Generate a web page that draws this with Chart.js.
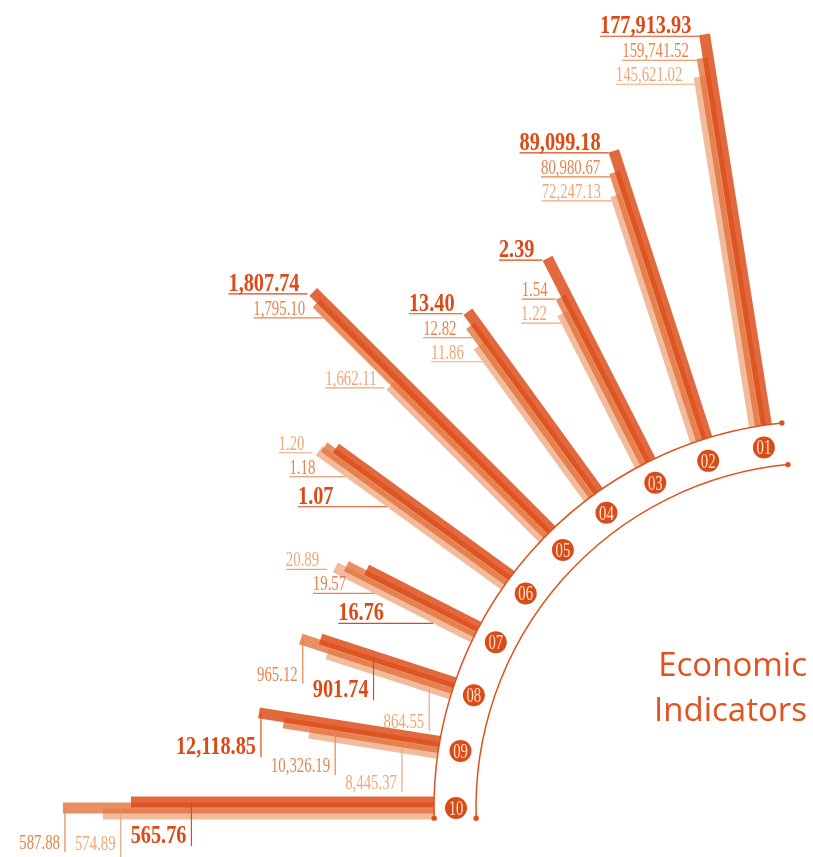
<!DOCTYPE html>
<html>
<head>
<meta charset="utf-8">
<script src="https://cdn.jsdelivr.net/npm/chart.js@4.4.0/dist/chart.umd.min.js"></script>
<style>
  html, body { margin: 0; padding: 0; background: #fff; }
  .wrap { position: relative; width: 813px; height: 857px; overflow: hidden; }
  #chart { position: absolute; left: 0; top: 0; }
  .title {
    position: absolute; right: 6px; top: 641px;
    text-align: right; font-family: "Open Sans", "Noto Sans", sans-serif;
    font-size: 33px; line-height: 45px; color: #e2521f;
  }
</style>
</head>
<body>
<div class="wrap">
  <canvas id="chart" width="813" height="857"></canvas>
  <div class="title">Economic<br>Indicators</div>
</div>
<script>
const categories  = ["01", "02", "03", "04", "05", "06", "07", "08", "09", "10"];
const darkValues  = [177913.93, 89099.18, 2.39, 13.40, 1807.74, 1.07, 16.76, 901.74, 12118.85, 565.76];
const midValues   = [159741.52, 80980.67, 1.54, 12.82, 1795.10, 1.18, 19.57, 965.12, 10326.19, 587.88];
const lightValues = [145621.02, 72247.13, 1.22, 11.86, 1662.11, 1.20, 20.89, 864.55, 8445.37, 574.89];

// every spoke has its own value axis: min sits on the base arc, max at the full spoke reach
const spokeMin = [-132000, -29300, -2.35, 3.345, 1402.14, -1.281, -1.184, 428.75, -564.9, 467.2];
const spokeMax = [181500, 127500, 6.0, 21.46, 1883.5, 3.052, 55.78, 1769.6, 27159, 597.3];

const W = 813, H = 857;
const CX = 821, CY = 808;          // arc centre, page pixels
const R_BASE = 387, R_INNER = 345, R_BADGE = 365, SPOKE = 400;
const ANGLE_START = 99, ANGLE_STEP = 9;
const BAR_W = 11, BAR_SHIFT = 6;
const SIDE_LABELS = 7;             // spokes 01-07 get side labels, the rest hang below
const DEG = Math.PI / 180;
const ARC_COLOR = "#e0501e";

const series = [
  { key: "dark",  values: darkValues,  color: "rgba(220,72,20,0.82)",  text: "#dc4a16", shift: BAR_SHIFT,  font: "bold 26px 'Liberation Serif'", sx: 0.78, bold: true, order: 0 },
  { key: "mid",   values: midValues,   color: "rgba(226,112,58,0.78)", text: "#e6844f", shift: 0,          font: "20px 'Liberation Serif'", sx: 0.74, bold: false, order: 1 },
  { key: "light", values: lightValues, color: "rgba(236,152,104,0.66)", text: "#efa77c", shift: -BAR_SHIFT, font: "20px 'Liberation Serif'", sx: 0.74, bold: false, order: 2 }
];

function fmt(v) {
  return v.toLocaleString("en-US", { minimumFractionDigits: 2, maximumFractionDigits: 2 });
}

function spokeDir(i) {
  const a = (ANGLE_START + i * ANGLE_STEP) * DEG;
  return { ux: Math.cos(a), uy: Math.sin(a), px: Math.sin(a), py: -Math.cos(a) };
}

function barLength(i, v) {
  return (v - spokeMin[i]) / (spokeMax[i] - spokeMin[i]) * SPOKE;
}

const bars = [];
const datasets = [];

categories.forEach((cat, i) => {
  const d = spokeDir(i);
  bars[i] = {};
  series.forEach(ser => {
    const len = barLength(i, ser.values[i]);
    const r1 = R_BASE + len;
    const start = { x: R_BASE * d.ux + ser.shift * d.px, y: R_BASE * d.uy + ser.shift * d.py };
    const end = { x: r1 * d.ux + ser.shift * d.px, y: r1 * d.uy + ser.shift * d.py };
    bars[i][ser.key] = { start, end, len };
    datasets.push({
      label: ser.key + " " + cat,
      data: [start, end],
      showLine: true,
      borderColor: ser.color,
      borderWidth: BAR_W,
      borderCapStyle: "butt",
      pointRadius: 0,
      fill: false,
      order: ser.order
    });
  });
});

datasets.push({
  label: "badges",
  data: categories.map((c, i) => {
    const d = spokeDir(i);
    return { x: R_BADGE * d.ux, y: R_BADGE * d.uy };
  }),
  pointRadius: 11,
  pointBackgroundColor: "#db4b17",
  pointBorderWidth: 0,
  order: -1
});

function drawText(ctx, str, x, y, font, sx, color, align) {
  ctx.save();
  ctx.translate(x, y);
  ctx.scale(sx, 1);
  ctx.font = font;
  ctx.fillStyle = color;
  ctx.textAlign = align;
  ctx.textBaseline = "alphabetic";
  ctx.fillText(str, 0, 0);
  ctx.restore();
}

function textWidth(ctx, str, font, sx) {
  ctx.save();
  ctx.font = font;
  const w = ctx.measureText(str).width * sx;
  ctx.restore();
  return w;
}

// left edge of a spoke's bar bundle along a horizontal line (pixels)
function bundleEdge(items, yLine) {
  let edge = Infinity;
  items.forEach(it => {
    const lo = Math.min(it.ey, it.sy), hi = Math.max(it.ey, it.sy);
    if (yLine < lo - 3 || yLine > hi) return;
    const dx = it.sx - it.ex, dy = it.sy - it.ey;
    const t = Math.max(0, (yLine - it.ey) / dy);
    const xc = it.ex + t * dx;
    const half = (BAR_W / 2) * Math.hypot(dx, dy) / Math.abs(dy);
    edge = Math.min(edge, xc - half);
  });
  return edge;
}

const decorPlugin = {
  id: "decor",
  afterDatasetsDraw(chart) {
    const { ctx, scales: { x, y } } = chart;
    const px = v => x.getPixelForValue(v);
    const py = v => y.getPixelForValue(v);
    const ox = px(0), oy = py(0), unit = px(1) - px(0);

    ctx.save();
    // the two guide arcs with end dots
    ctx.strokeStyle = ARC_COLOR;
    ctx.fillStyle = ARC_COLOR;
    ctx.lineWidth = 1.5;
    [[R_BASE, 95.8, 181.5], [R_INNER, 95.5, 181.7]].forEach(([r, a0, a1]) => {
      ctx.beginPath();
      ctx.arc(ox, oy, r * unit, -a1 * DEG, -a0 * DEG);
      ctx.stroke();
      [a0, a1].forEach(a => {
        ctx.beginPath();
        ctx.arc(ox + r * unit * Math.cos(a * DEG), oy - r * unit * Math.sin(a * DEG), 2.7, 0, Math.PI * 2);
        ctx.fill();
      });
    });

    // badge numbers
    categories.forEach((cat, i) => {
      const d = spokeDir(i);
      drawText(ctx, cat, px(R_BADGE * d.ux), py(R_BADGE * d.uy) + 7, "21px 'Liberation Serif'", 0.7, "#fbe3d2", "center");
    });

    // value labels
    categories.forEach((cat, i) => {
      const items = series.map(ser => {
        const b = bars[i][ser.key];
        return {
          ser, text: fmt(ser.values[i]), len: b.len,
          sx: px(b.start.x), sy: py(b.start.y),
          ex: px(b.end.x), ey: py(b.end.y)
        };
      });
      ctx.lineWidth = 1.2;

      if (i < SIDE_LABELS) {
        // longest bar gets the top label, the others step down
        items.sort((a, b) => b.len - a.len);
        let prev = -Infinity;
        items.forEach(it => {
          const lineY = Math.max(it.ey + 2, prev + (it.ser.bold ? 30 : 24));
          prev = lineY;
          let edge = bundleEdge(items, lineY);
          if (!isFinite(edge)) edge = it.ex;
          const w = textWidth(ctx, it.text, it.ser.font, it.ser.sx);
          const drop = Math.max(0, lineY - it.ey - 2);
          const right = edge - 8 - drop * 0.8;
          drawText(ctx, it.text, right, lineY - 3, it.ser.font, it.ser.sx, it.ser.text, "right");
          ctx.strokeStyle = it.ser.text;
          ctx.beginPath();
          ctx.moveTo(right - w, lineY);
          ctx.lineTo(edge, lineY);
          ctx.stroke();
        });
      } else {
        items.sort((a, b) => a.ex - b.ex);
        let prev = -Infinity;
        items.forEach(it => {
          const w = textWidth(ctx, it.text, it.ser.font, it.ser.sx);
          const lx = Math.max(it.ex + 2, prev + 10 + w + 5);
          prev = lx;
          const t = (lx - it.ex) / (it.sx - it.ex);
          const ly = it.ey + t * (it.sy - it.ey);
          const bottom = Math.min(ly + 44, H);
          ctx.strokeStyle = it.ser.text;
          ctx.beginPath();
          ctx.moveTo(lx, ly);
          ctx.lineTo(lx, bottom);
          ctx.stroke();
          drawText(ctx, it.text, lx - 5, Math.min(bottom - 3, H - 7), it.ser.font, it.ser.sx, it.ser.text, "right");
        });
      }
    });
    ctx.restore();
  }
};

new Chart(document.getElementById("chart"), {
  type: "scatter",
  data: { datasets },
  options: {
    responsive: false,
    animation: false,
    devicePixelRatio: 1,
    events: [],
    layout: { padding: 0, autoPadding: false },
    plugins: { legend: { display: false }, tooltip: { enabled: false } },
    scales: {
      x: { type: "linear", min: -CX, max: W - CX, display: false },
      y: { type: "linear", min: CY - H, max: CY, display: false }
    }
  },
  plugins: [decorPlugin]
});
</script>
</body>
</html>
